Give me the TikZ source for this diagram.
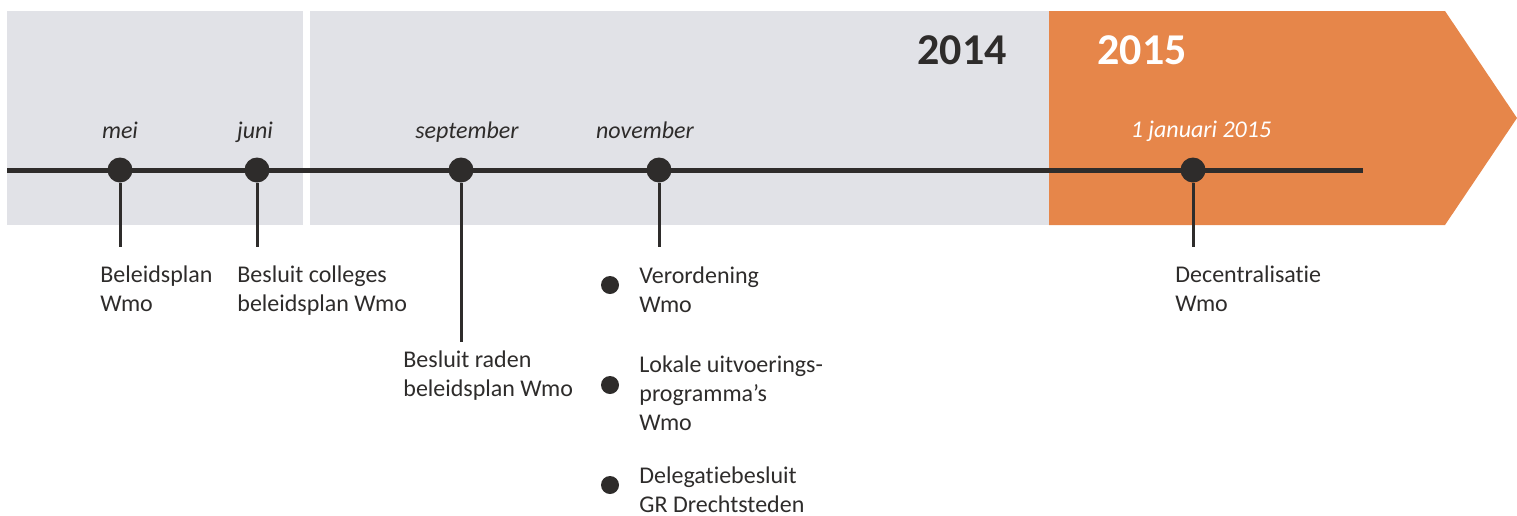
\documentclass[tikz,border=0pt]{standalone}
\usepackage{fontspec}
\setmainfont{Carlito}[Ligatures=NoCommon]
\definecolor{panel}{HTML}{E1E2E7}
\definecolor{accent}{HTML}{E6864A}
\definecolor{ink}{HTML}{2E2C2B}
\begin{document}
\begin{tikzpicture}[x=0.5pt,y=-0.5pt,
  timeline/.style={draw=ink,line width=2.5pt},
  stem/.style={draw=ink,line width=1.5pt},
  dot/.style={circle,fill=ink,inner sep=0pt,minimum size=12.5pt},
  bulletdot/.style={circle,fill=ink,inner sep=0pt,minimum size=9pt},
  month/.style={anchor=base,font=\fontsize{12}{14.5}\selectfont\itshape,text=ink,inner sep=0pt},
  label/.style={anchor=north west,align=left,font=\fontsize{12}{14.5}\selectfont,text=ink,inner sep=0pt},
  year/.style={font=\fontsize{22}{26}\selectfont\bfseries,inner sep=0pt}]
\useasboundingbox (0,0) rectangle (1517,515);
% background panels
\fill[panel] (7,11) rectangle (303,225);
\fill[panel] (310,11) rectangle (1049,225);
\fill[accent] (1049,11) -- (1445,11) -- (1517,118) -- (1445,225) -- (1049,225) -- cycle;
% years
\node[year,anchor=base east,text=ink] (y2014) at (1007,64) {2014};
\node[year,anchor=base west,text=white] (y2015) at (1097,64) {2015};
% timeline
\coordinate (tl0) at (7,170);
\coordinate (tl1) at (1363,170);
\draw[timeline] (tl0) -- (tl1);
% dots
\node[dot] (d1) at (120,170) {};
\node[dot] (d2) at (257,170) {};
\node[dot] (d3) at (461,170) {};
\node[dot] (d4) at (659,170) {};
\node[dot] (d5) at (1193,170) {};
% stems
\coordinate (s1) at (120,247);
\coordinate (s2) at (257,247);
\coordinate (s3) at (461,342);
\coordinate (s4) at (659,247);
\coordinate (s5) at (1193,247);
\draw[stem] (d1.south) -- (s1);
\draw[stem] (d2.south) -- (s2);
\draw[stem] (d3.south) -- (s3);
\draw[stem] (d4.south) -- (s4);
\draw[stem] (d5.south) -- (s5);
% months
\node[month] (m1) at (120,138) {mei};
\node[month] (m2) at (255,138) {juni};
\node[month] (m3) at (467,138) {september};
\node[month] (m4) at (645,138) {november};
\node[month,text=white] (m5) at (1201,137) {1 januari 2015};
% labels
\node[label] (l1) at (100,265) {Beleidsplan\\Wmo};
\node[label] (l2) at (237,265) {Besluit colleges\\beleidsplan Wmo};
\node[label] (l3) at (403,350) {Besluit raden\\beleidsplan Wmo};
\node[label] (l5) at (1175,265) {Decentralisatie\\Wmo};
% november items
\node[bulletdot] (b1) at (610,285) {};
\node[bulletdot] (b2) at (610,385) {};
\node[bulletdot] (b3) at (610,485) {};
\node[label] (n1) at (639,266) {Verordening\\Wmo};
\node[label] (n2) at (639,355) {Lokale uitvoerings-\\programma’s\\Wmo};
\node[label] (n3) at (639,466) {Delegatiebesluit\\GR Drechtsteden};
\end{tikzpicture}
\end{document}
